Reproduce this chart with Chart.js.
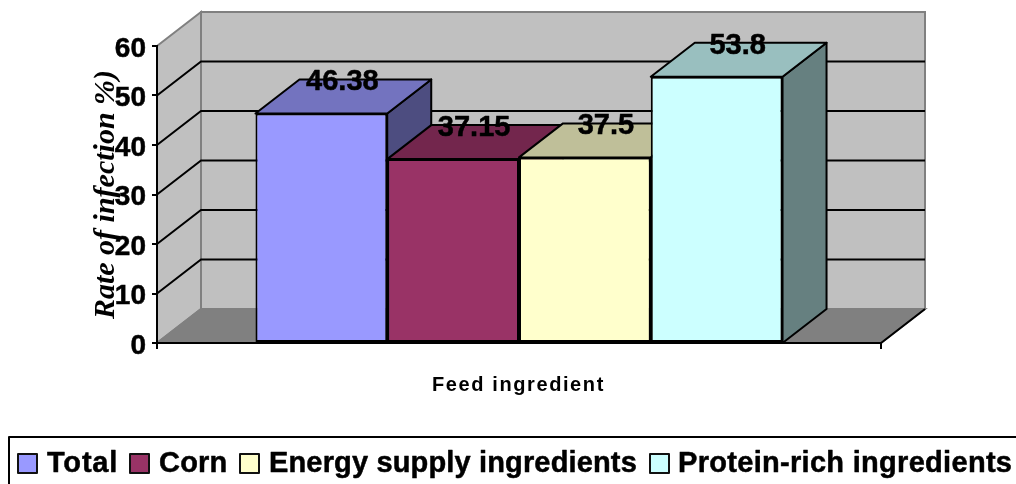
<!DOCTYPE html>
<html>
<head>
<meta charset="utf-8">
<style>html,body{margin:0;padding:0;background:#fff}canvas{display:block}</style>
<script src="https://cdn.jsdelivr.net/npm/chart.js@4"></script>
</head>
<body>
<canvas id="c" width="1016" height="484"></canvas>
<script>
const categories = [''];
const seriesNames = ['Total', 'Corn', 'Energy supply ingredients', 'Protein-rich ingredients'];
const seriesValues = [46.38, 37.15, 37.5, 53.8];
const frontColors = ['#9999FF', '#993366', '#FFFFCC', '#CCFFFF'];
const topColors = ['#7373BF', '#73264D', '#BFBF99', '#99BFBF'];
const sideColors = ['#4D4D80', '#4D1A33', '#808066', '#668080'];
const xTitle = 'Feed ingredient';
const yTitle = 'Rate of infection %)';

const DX = 44, DY = -34;
const SANS = '"Liberation Sans"';
const legendBoxX = [18, 130, 240, 650];
const legendTextX = [47, 159, 269, 678];
const legendSpacing = [0.8, 0.2, 0.15, 0.3];

function poly(ctx, pts, fill, stroke, lw) {
  ctx.beginPath();
  pts.forEach((p, i) => i ? ctx.lineTo(p[0], p[1]) : ctx.moveTo(p[0], p[1]));
  ctx.closePath();
  if (fill) { ctx.fillStyle = fill; ctx.fill(); }
  if (stroke) { ctx.strokeStyle = stroke; ctx.lineWidth = lw; ctx.stroke(); }
}
function heavyText(ctx, s, x, y, w) {
  ctx.strokeStyle = '#000';
  ctx.lineWidth = w;
  ctx.lineJoin = 'round';
  ctx.strokeText(s, x, y);
  ctx.fillText(s, x, y);
}

const box3d = {
  id: 'box3d',
  beforeDraw(chart) {
    const { ctx, chartArea: a, scales: { y } } = chart;
    ctx.save();
    poly(ctx, [[a.left + DX, a.top + DY], [a.right + DX, a.top + DY], [a.right + DX, a.bottom + DY], [a.left + DX, a.bottom + DY]], '#C0C0C0', '#808080', 2);
    poly(ctx, [[a.left, a.top], [a.left + DX, a.top + DY], [a.left + DX, a.bottom + DY], [a.left, a.bottom]], '#C0C0C0', '#808080', 2);
    poly(ctx, [[a.left, a.bottom], [a.left + DX, a.bottom + DY], [a.right + DX, a.bottom + DY], [a.right, a.bottom]], '#808080', '#808080', 2);
    ctx.strokeStyle = '#000';
    ctx.lineWidth = 2;
    ctx.beginPath();
    ctx.moveTo(a.right, a.bottom);
    ctx.lineTo(a.right + DX, a.bottom + DY);
    y.ticks.forEach(t => {
      if (t.value <= y.min || t.value >= y.max) return;
      const py = y.getPixelForValue(t.value);
      ctx.moveTo(a.left, py);
      ctx.lineTo(a.left + DX, py + DY);
      ctx.lineTo(a.right + DX, py + DY);
    });
    ctx.stroke();
    ctx.restore();
  },
  beforeDatasetsDraw(chart) {
    const { ctx, scales: { y } } = chart;
    ctx.save();
    ctx.lineJoin = 'round';
    chart.data.datasets.forEach((ds, i) => {
      const el = chart.getDatasetMeta(i).data[0];
      const l = el.x - el.width / 2, r = el.x + el.width / 2, t = el.y, b = y.getPixelForValue(0);
      poly(ctx, [[r, t], [r + DX, t + DY], [r + DX, b + DY], [r, b]], sideColors[i], '#000', 2);
      poly(ctx, [[l, t], [l + DX, t + DY], [r + DX, t + DY], [r, t]], topColors[i], '#000', 2);
    });
    ctx.restore();
  },
  afterDraw(chart) {
    const { ctx } = chart;
    ctx.save();
    // value labels
    ctx.fillStyle = '#000';
    ctx.textAlign = 'center';
    ctx.textBaseline = 'middle';
    ctx.font = 'bold 29px ' + SANS;
    chart.data.datasets.forEach((ds, i) => {
      const el = chart.getDatasetMeta(i).data[0];
      heavyText(ctx, String(ds.data[0]), el.x + DX / 2 - 1, el.y + DY + 3, 0.5);
    });
    // x axis title
    ctx.textAlign = 'left';
    ctx.font = 'bold 20px ' + SANS;
    ctx.letterSpacing = '1.6px';
    ctx.fillText(xTitle, 432, 385);
    // legend
    ctx.font = 'bold 29px ' + SANS;
    ctx.strokeStyle = '#000';
    ctx.lineWidth = 2;
    ctx.letterSpacing = '0px';
    ctx.strokeRect(9, 437, 1100, 100);
    chart.data.datasets.forEach((ds, i) => {
      ctx.fillStyle = ds.backgroundColor;
      ctx.strokeStyle = '#111';
      ctx.lineWidth = 2;
      ctx.fillRect(legendBoxX[i], 454, 19, 19);
      ctx.strokeRect(legendBoxX[i], 454, 19, 19);
      ctx.fillStyle = '#000';
      ctx.letterSpacing = legendSpacing[i] + 'px';
      heavyText(ctx, ds.label, legendTextX[i], 464, 0.5);
      ctx.letterSpacing = '0px';
    });
    ctx.restore();
  }
};

new Chart(document.getElementById('c'), {
  type: 'bar',
  data: {
    labels: categories,
    datasets: seriesNames.map((n, i) => ({
      label: n,
      data: [seriesValues[i]],
      backgroundColor: frontColors[i],
      borderColor: '#000',
      borderWidth: 2,
      borderSkipped: false,
      categoryPercentage: 0.728,
      barPercentage: 1
    }))
  },
  options: {
    responsive: false,
    animation: false,
    layout: { padding: { left: 88, right: 135, top: 46, bottom: 92 } },
    plugins: { legend: { display: false }, tooltip: { enabled: false } },
    scales: {
      x: {
        afterFit(s) { s.height = 49; },
        grid: { drawOnChartArea: false, color: '#000', lineWidth: 2, tickLength: 6 },
        border: { color: '#000', width: 2, z: 1 },
        ticks: { display: false }
      },
      y: {
        min: 0, max: 60,
        afterFit(s) { s.width = 69; },
        grid: { drawOnChartArea: false, color: '#000', lineWidth: 2, tickLength: 5 },
        border: { color: '#000', width: 2 },
        ticks: { stepSize: 10, color: '#000', padding: 6, labelOffset: 3, textStrokeColor: '#000', textStrokeWidth: 0.5, font: { family: SANS, size: 28, weight: 'bold' } },
        title: { display: true, text: yTitle, color: '#000', padding: 0, font: { family: '"Liberation Serif"', size: 30, style: 'italic', weight: 'bold' } }
      }
    }
  },
  plugins: [box3d]
});
</script>
</body>
</html>
